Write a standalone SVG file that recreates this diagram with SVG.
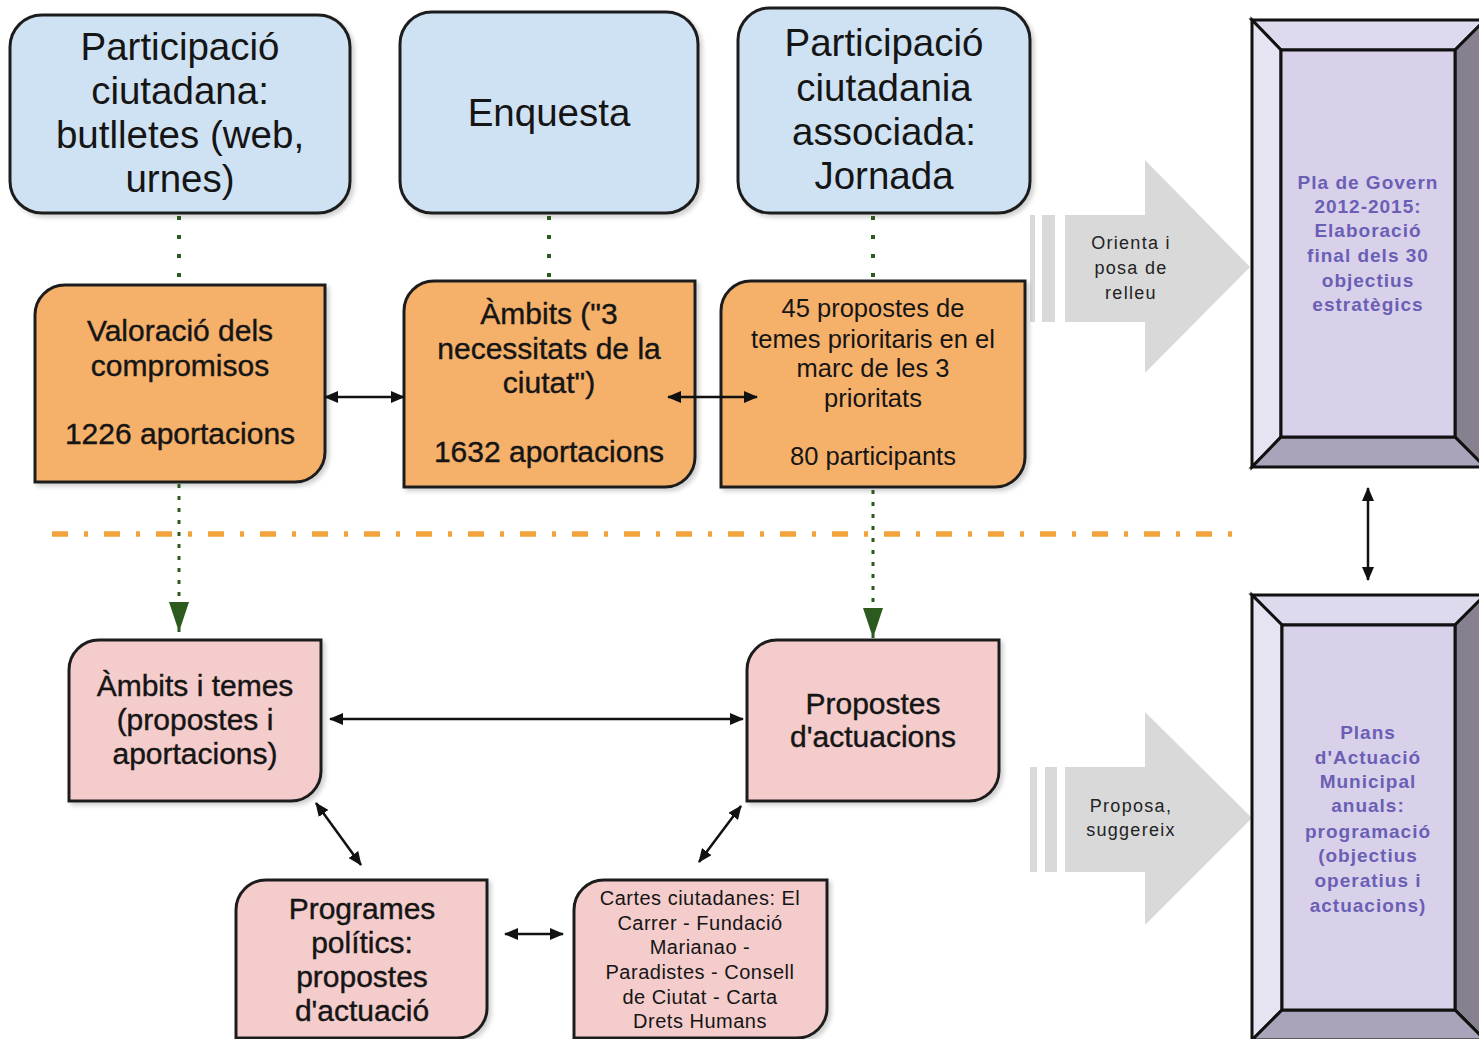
<svg xmlns="http://www.w3.org/2000/svg" width="1479" height="1039" viewBox="0 0 1479 1039">
<defs>
<style>
text{font-family:"Liberation Sans",Arial,sans-serif;text-anchor:middle;fill:#151515}
.blue{fill:#cfe2f3;stroke:#1e1e1e;stroke-width:3}
.orange{fill:#f5b06a;stroke:#1e1e1e;stroke-width:3}
.pink{fill:#f4cccc;stroke:#1e1e1e;stroke-width:3}
.t37{font-size:38.5px}
.t28{font-size:30px;stroke:#151515;stroke-width:0.4px}
.t25{font-size:25.5px}
.t20{font-size:20px;letter-spacing:0.5px}
.t18{font-size:18px;letter-spacing:1.3px;fill:#222}
.purple{font-size:19px;font-weight:bold;letter-spacing:1px;fill:#6a5fb5}
.dots{stroke:#2d5a1e;stroke-width:4;fill:none;stroke-dasharray:4 15}
.dots2{stroke:#2d5a1e;stroke-width:3;fill:none;stroke-dasharray:4 8}
.dbl{stroke:#111;stroke-width:2.5;fill:none;marker-start:url(#ah);marker-end:url(#ah)}
.grey{fill:#d9d9d9}
.bv{stroke:#111;stroke-width:3;stroke-linejoin:miter}
</style>
<marker id="ah" viewBox="0 0 14 12" refX="13" refY="6" markerWidth="14" markerHeight="12" markerUnits="userSpaceOnUse" orient="auto-start-reverse">
<path d="M0,0 L14,6 L0,12 Z" fill="#111"/>
</marker>
<marker id="gh" viewBox="0 0 30 20" refX="30" refY="10" markerWidth="30" markerHeight="20" markerUnits="userSpaceOnUse" orient="auto">
<path d="M0,0 L30,10 L0,20 Z" fill="#2d5a1e"/>
</marker>
<filter id="sh" x="-10%" y="-10%" width="130%" height="130%">
<feDropShadow dx="3" dy="3" stdDeviation="2" flood-color="#000" flood-opacity="0.18"/>
</filter>
</defs>
<rect width="1479" height="1039" fill="#ffffff"/>

<!-- grey big arrows -->
<g id="arrow-orienta">
<rect class="grey" x="1030" y="215" width="5" height="107"/>
<rect class="grey" x="1042" y="215" width="13" height="107"/>
<path class="grey" d="M1065 215 H1145 V160 L1250 267 L1145 373 V322 H1065 Z"/>
<text class="t18" x="1131" y="249">Orienta i</text>
<text class="t18" x="1131" y="274">posa de</text>
<text class="t18" x="1131" y="299">relleu</text>
</g>
<g id="arrow-proposa">
<rect class="grey" x="1030" y="767" width="7" height="105"/>
<rect class="grey" x="1045" y="767" width="12" height="105"/>
<path class="grey" d="M1065 767 H1145 V712 L1252 818 L1145 925 V872 H1065 Z"/>
<text class="t18" x="1131" y="812">Proposa,</text>
<text class="t18" x="1131" y="836">suggereix</text>
</g>

<!-- top blue nodes -->
<g id="node-butlletes">
<rect class="blue" x="10" y="15" width="340" height="198" rx="32" filter="url(#sh)"/>
<text class="t37" x="180" y="60">Participació</text>
<text class="t37" x="180" y="104">ciutadana:</text>
<text class="t37" x="180" y="148">butlletes (web,</text>
<text class="t37" x="180" y="192">urnes)</text>
</g>
<g id="node-enquesta">
<rect class="blue" x="400" y="12" width="298" height="201" rx="32" filter="url(#sh)"/>
<text class="t37" x="549" y="126">Enquesta</text>
</g>
<g id="node-jornada">
<rect class="blue" x="738" y="8" width="292" height="205" rx="32" filter="url(#sh)"/>
<text class="t37" x="884" y="56">Participació</text>
<text class="t37" x="884" y="101">ciutadania</text>
<text class="t37" x="884" y="145">associada:</text>
<text class="t37" x="884" y="189">Jornada</text>
</g>

<!-- orange nodes -->
<g id="node-valoracio">
<path class="orange" filter="url(#sh)" d="M65 285 H325 V452 A30 30 0 0 1 295 482 H35 V315 A30 30 0 0 1 65 285 Z"/>
<text class="t28" x="180" y="341">Valoració dels</text>
<text class="t28" x="180" y="376">compromisos</text>
<text class="t28" x="180" y="444">1226 aportacions</text>
</g>
<g id="node-ambits">
<path class="orange" filter="url(#sh)" d="M434 281 H695 V457 A30 30 0 0 1 665 487 H404 V311 A30 30 0 0 1 434 281 Z"/>
<text class="t28" x="549" y="324">Àmbits ("3</text>
<text class="t28" x="549" y="359">necessitats de la</text>
<text class="t28" x="549" y="393">ciutat")</text>
<text class="t28" x="549" y="462">1632 aportacions</text>
</g>
<g id="node-45propostes">
<path class="orange" filter="url(#sh)" d="M751 281 H1025 V457 A30 30 0 0 1 995 487 H721 V311 A30 30 0 0 1 751 281 Z"/>
<text class="t25" x="873" y="317">45 propostes de</text>
<text class="t25" x="873" y="348">temes prioritaris en el</text>
<text class="t25" x="873" y="377">marc de les 3</text>
<text class="t25" x="873" y="407">prioritats</text>
<text class="t25" x="873" y="465">80 participants</text>
</g>

<!-- pink nodes -->
<g id="node-ambits-temes">
<path class="pink" filter="url(#sh)" d="M99 640 H321 V771 A30 30 0 0 1 291 801 H69 V670 A30 30 0 0 1 99 640 Z"/>
<text class="t28" x="195" y="696">Àmbits i temes</text>
<text class="t28" x="195" y="730">(propostes i</text>
<text class="t28" x="195" y="764">aportacions)</text>
</g>
<g id="node-propostes-actuacions">
<path class="pink" filter="url(#sh)" d="M777 640 H999 V771 A30 30 0 0 1 969 801 H747 V670 A30 30 0 0 1 777 640 Z"/>
<text class="t28" x="873" y="714">Propostes</text>
<text class="t28" x="873" y="747">d'actuacions</text>
</g>
<g id="node-programes">
<path class="pink" filter="url(#sh)" d="M266 880 H487 V1008 A30 30 0 0 1 457 1038 H236 V910 A30 30 0 0 1 266 880 Z"/>
<text class="t28" x="362" y="919">Programes</text>
<text class="t28" x="362" y="953">polítics:</text>
<text class="t28" x="362" y="987">propostes</text>
<text class="t28" x="362" y="1021">d'actuació</text>
</g>
<g id="node-cartes">
<path class="pink" filter="url(#sh)" d="M604 880 H827 V1008 A30 30 0 0 1 797 1038 H574 V910 A30 30 0 0 1 604 880 Z"/>
<text class="t20" x="700" y="905">Cartes ciutadanes: El</text>
<text class="t20" x="700" y="930">Carrer - Fundació</text>
<text class="t20" x="700" y="954">Marianao -</text>
<text class="t20" x="700" y="979">Paradistes - Consell</text>
<text class="t20" x="700" y="1004">de Ciutat - Carta</text>
<text class="t20" x="700" y="1028">Drets Humans</text>
</g>

<!-- bevel frames -->
<g id="node-pla-govern">
<path class="bv" fill="#dddaee" d="M1252 20 L1485 20 L1455 50 L1281 50 Z"/>
<path class="bv" fill="#e6e4f2" d="M1252 20 L1281 50 L1281 437 L1252 467 Z"/>
<path class="bv" fill="#86808f" d="M1485 20 L1485 467 L1455 437 L1455 50 Z"/>
<path class="bv" fill="#a9a4b9" d="M1252 467 L1281 437 L1455 437 L1485 467 Z"/>
<rect class="bv" fill="#d9d1ea" x="1281" y="50" width="174" height="387"/>
<text class="purple" x="1368" y="189">Pla de Govern</text>
<text class="purple" x="1368" y="213">2012-2015:</text>
<text class="purple" x="1368" y="237">Elaboració</text>
<text class="purple" x="1368" y="262">final dels 30</text>
<text class="purple" x="1368" y="287">objectius</text>
<text class="purple" x="1368" y="311">estratègics</text>
</g>
<g id="node-plans-actuacio">
<path class="bv" fill="#dddaee" d="M1252 595 L1485 595 L1455 625 L1282 625 Z"/>
<path class="bv" fill="#e6e4f2" d="M1252 595 L1282 625 L1282 1010 L1252 1040 Z"/>
<path class="bv" fill="#86808f" d="M1485 595 L1485 1040 L1455 1010 L1455 625 Z"/>
<path class="bv" fill="#a9a4b9" d="M1252 1040 L1282 1010 L1455 1010 L1485 1040 Z"/>
<rect class="bv" fill="#d9d1ea" x="1282" y="625" width="173" height="385"/>
<text class="purple" x="1368" y="739">Plans</text>
<text class="purple" x="1368" y="764">d'Actuació</text>
<text class="purple" x="1368" y="788">Municipal</text>
<text class="purple" x="1368" y="812">anuals:</text>
<text class="purple" x="1368" y="838">programació</text>
<text class="purple" x="1368" y="862">(objectius</text>
<text class="purple" x="1368" y="887">operatius i</text>
<text class="purple" x="1368" y="912">actuacions)</text>
</g>

<!-- connectors -->
<g id="connectors">
<line class="dots" x1="179" y1="216" x2="179" y2="285"/>
<line class="dots" x1="549" y1="216" x2="549" y2="281"/>
<line class="dots" x1="873" y1="216" x2="873" y2="281"/>
<line x1="52" y1="534" x2="1233" y2="534" stroke="#f2a33a" stroke-width="5.5" stroke-dasharray="16 16 4 16"/>
<line class="dots2" x1="179" y1="484" x2="179" y2="632" marker-end="url(#gh)"/>
<line class="dots2" x1="873" y1="490" x2="873" y2="638" marker-end="url(#gh)"/>
<line class="dbl" x1="325" y1="397" x2="404" y2="397"/>
<line class="dbl" x1="668" y1="397" x2="757" y2="397"/>
<line class="dbl" x1="330" y1="719" x2="743" y2="719"/>
<line class="dbl" x1="316" y1="803" x2="361" y2="865"/>
<line class="dbl" x1="741" y1="806" x2="699" y2="862"/>
<line class="dbl" x1="505" y1="934" x2="563" y2="934"/>
<line class="dbl" x1="1368" y1="488" x2="1368" y2="580"/>
</g>
</svg>
